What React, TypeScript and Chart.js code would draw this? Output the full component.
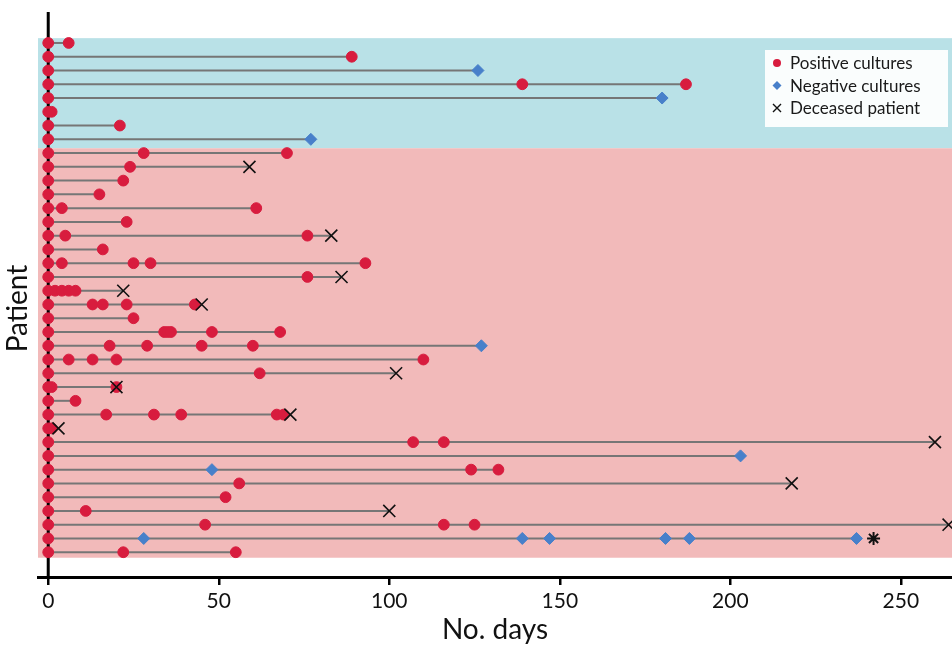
import React, { useEffect, useRef } from "react";
import { Chart, registerables } from "chart.js";

Chart.register(...registerables);

// ---------- data ----------
const PATIENT_IDS = [
  1, 2, 3, 4, 5, 6, 7, 8, 9, 10, 11, 12, 13, 14, 15, 16, 17, 18, 19,
  20, 21, 22, 23, 24, 25, 26, 27, 28, 29, 30, 31, 32, 33, 34, 35, 36, 37, 38,
];

// days with positive cultures, per patient (top to bottom)
const POSITIVE_DAYS: number[][] = [
  [0, 6], [0, 89], [0], [0, 139, 187], [0], [0, 1], [0, 21], [0],
  [0, 28, 70], [0, 24], [0, 22], [0, 15], [0, 4, 61], [0, 23], [0, 5, 76],
  [0, 16], [0, 4, 25, 30, 93], [0, 76], [0, 2, 4, 6, 8], [0, 13, 16, 23, 43],
  [0, 25], [0, 34, 35, 36, 48, 68], [0, 18, 29, 45, 60], [0, 6, 13, 20, 110],
  [0, 62], [0, 1, 20], [0, 8], [0, 17, 31, 39, 67, 69], [0, 1], [0, 107, 116],
  [0], [0, 124, 132], [0, 56], [0, 52], [0, 11], [0, 46, 116, 125], [0], [0, 22, 55],
];

// days with negative cultures
const NEGATIVE_DAYS: number[][] = [
  [], [], [126], [], [180], [], [], [77],
  [], [], [], [], [], [], [], [], [], [], [], [], [], [],
  [127], [], [], [], [], [], [], [], [203], [48], [], [], [], [],
  [28, 139, 147, 181, 188, 237], [],
];

// day of death
const DECEASED_DAYS: number[][] = [
  [], [], [], [], [], [], [], [],
  [], [59], [], [], [], [], [83], [], [], [86], [22], [45], [], [],
  [], [], [102], [20], [], [71], [3], [260], [], [], [218], [], [100], [264],
  [], [],
];

// other marked event (asterisk annotation)
const ASTERISK_DAYS: number[][] = [
  [], [], [], [], [], [], [], [], [], [], [], [], [], [], [], [], [], [], [],
  [], [], [], [], [], [], [], [], [], [], [], [], [], [], [], [], [], [242], [],
];

// patient groups (shaded bands): first/last patient id
const GROUP_FIRST = [1, 9];
const GROUP_LAST = [8, 38];
const GROUP_COLORS = ["rgb(185, 225, 231)", "rgb(242, 186, 186)"];

const X_TICKS = [0, 50, 100, 150, 200, 250];
const LEGEND_LABELS = ["Positive cultures", "Negative cultures", "Deceased patient"];
const X_TITLE = "No. days";
const Y_TITLE = "Patient";

const RED = "rgb(216, 28, 62)";
const BLUE = "rgb(72, 128, 202)";
const LINE_GRAY = "rgb(118, 118, 118)";
const FONT = "Lato, 'Open Sans', sans-serif";

// ---------- plugins ----------
const backgroundPlugin = {
  id: "bands",
  beforeDatasetsDraw(chart: any) {
    const { ctx, chartArea, scales } = chart;
    const y = scales.y;
    const x = scales.x;
    ctx.save();
    GROUP_FIRST.forEach((first, i) => {
      const top = y.getPixelForValue(first - 0.35);
      const bottomVal = i + 1 < GROUP_FIRST.length ? GROUP_FIRST[i + 1] - 0.35 : GROUP_LAST[i] + 0.4;
      const bottom = y.getPixelForValue(bottomVal);
      ctx.fillStyle = GROUP_COLORS[i];
      ctx.fillRect(chartArea.left, top, chartArea.right - chartArea.left, bottom - top);
    });
    // vertical axis at day 0
    const x0 = x.getPixelForValue(0);
    ctx.strokeStyle = "#000";
    ctx.lineWidth = 3;
    ctx.beginPath();
    ctx.moveTo(x0, chartArea.top);
    ctx.lineTo(x0, chartArea.bottom);
    ctx.stroke();
    ctx.restore();
  },
};

const legendPlugin = {
  id: "customLegend",
  afterDatasetsDraw(chart: any) {
    const { ctx, chartArea } = chart;
    const left = chartArea.right - 187;
    const top = chartArea.top + 38;
    ctx.save();
    ctx.fillStyle = "rgba(255,255,255,0.92)";
    ctx.fillRect(left, top, 183, 77);
    ctx.font = `17px ${FONT}`;
    ctx.textBaseline = "middle";
    ctx.textAlign = "left";
    LEGEND_LABELS.forEach((label, i) => {
      const cy = top + 13 + i * 22.5;
      const mx = left + 12;
      if (i === 0) {
        ctx.fillStyle = RED;
        ctx.beginPath();
        ctx.arc(mx, cy, 4, 0, Math.PI * 2);
        ctx.fill();
      } else if (i === 1) {
        ctx.fillStyle = BLUE;
        ctx.beginPath();
        ctx.moveTo(mx, cy - 4.5);
        ctx.lineTo(mx + 4.5, cy);
        ctx.lineTo(mx, cy + 4.5);
        ctx.lineTo(mx - 4.5, cy);
        ctx.closePath();
        ctx.fill();
      } else {
        ctx.strokeStyle = "#111";
        ctx.lineWidth = 1.4;
        ctx.beginPath();
        ctx.moveTo(mx - 4, cy - 4);
        ctx.lineTo(mx + 4, cy + 4);
        ctx.moveTo(mx + 4, cy - 4);
        ctx.lineTo(mx - 4, cy + 4);
        ctx.stroke();
      }
      ctx.fillStyle = "#1a1a1a";
      ctx.fillText(label, left + 25, cy + 1);
    });
    ctx.restore();
  },
};

const yTitlePlugin = {
  id: "yTitle",
  afterDraw(chart: any) {
    const { ctx, chartArea } = chart;
    ctx.save();
    ctx.translate(chartArea.left - 20, (chartArea.top + chartArea.bottom) / 2 + 14);
    ctx.rotate(-Math.PI / 2);
    ctx.font = `28px ${FONT}`;
    ctx.fillStyle = "#111";
    ctx.textAlign = "center";
    ctx.textBaseline = "middle";
    ctx.fillText(Y_TITLE, 0, 0);
    ctx.restore();
  },
};

function buildDatasets() {
  const datasets: any[] = [];
  PATIENT_IDS.forEach((pid, i) => {
    const all = [...POSITIVE_DAYS[i], ...NEGATIVE_DAYS[i], ...DECEASED_DAYS[i]];
    const end = Math.max(...all);
    datasets.push({
      label: `span-${pid}`,
      data: [{ x: 0, y: pid }, { x: end, y: pid }],
      showLine: true,
      borderColor: LINE_GRAY,
      borderWidth: 2,
      pointRadius: 0,
      order: 10,
    });
  });
  const collect = (arr: number[][]) =>
    PATIENT_IDS.flatMap((pid, i) => arr[i].map((d) => ({ x: d, y: pid })));
  datasets.push({
    label: LEGEND_LABELS[0],
    data: collect(POSITIVE_DAYS),
    pointStyle: "circle",
    pointRadius: 5.4,
    backgroundColor: RED,
    borderColor: RED,
    borderWidth: 1,
    order: 4,
  });
  datasets.push({
    label: LEGEND_LABELS[1],
    data: collect(NEGATIVE_DAYS),
    pointStyle: "rectRot",
    pointRadius: 6,
    backgroundColor: BLUE,
    borderColor: BLUE,
    borderWidth: 1,
    order: 3,
  });
  datasets.push({
    label: LEGEND_LABELS[2],
    data: collect(DECEASED_DAYS),
    pointStyle: "crossRot",
    pointRadius: 8.5,
    backgroundColor: "#111",
    borderColor: "#111",
    borderWidth: 1.6,
    order: 2,
  });
  datasets.push({
    label: "other",
    data: collect(ASTERISK_DAYS),
    pointStyle: "star",
    pointRadius: 6.5,
    backgroundColor: "#111",
    borderColor: "#111",
    borderWidth: 2,
    order: 1,
  });
  return datasets;
}

export default function App() {
  const canvasRef = useRef<HTMLCanvasElement | null>(null);

  useEffect(() => {
    if (!canvasRef.current) return;
    Chart.defaults.font.family = FONT;
    const chart = new Chart(canvasRef.current, {
      type: "scatter",
      data: { datasets: buildDatasets() },
      options: {
        animation: false,
        responsive: true,
        maintainAspectRatio: false,
        layout: { autoPadding: false, padding: { left: 38, top: 12, right: 0, bottom: 0 } },
        plugins: {
          legend: { display: false },
          tooltip: { enabled: false },
        },
        scales: {
          x: {
            type: "linear",
            min: -3,
            max: 265,
            afterBuildTicks: (scale: any) => {
              scale.ticks = X_TICKS.map((v) => ({ value: v }));
            },
            afterFit: (scale: any) => {
              scale.height = 70;
              scale.paddingRight = 0;
              scale.paddingLeft = 0;
            },
            grid: {
              display: true,
              drawOnChartArea: false,
              drawTicks: true,
              tickLength: 8,
              color: "#000",
              lineWidth: 2.5,
            },
            border: { display: true, color: "#000", width: 3 },
            ticks: {
              color: "#111",
              font: { size: 21, family: FONT },
              padding: 4,
              maxRotation: 0,
            },
            title: {
              display: true,
              text: X_TITLE,
              color: "#111",
              font: { size: 28, family: FONT },
              padding: { top: 0, bottom: 0 },
            },
          },
          y: {
            type: "linear",
            display: false,
            reverse: true,
            min: -1.25,
            max: 39.8,
          },
        },
      },
      plugins: [backgroundPlugin, legendPlugin, yTitlePlugin],
    });
    return () => chart.destroy();
  }, []);

  return (
    <div style={{ position: "absolute", left: 0, top: 0, width: 952, height: 647, background: "#fff" }}>
      <canvas ref={canvasRef} />
    </div>
  );
}
